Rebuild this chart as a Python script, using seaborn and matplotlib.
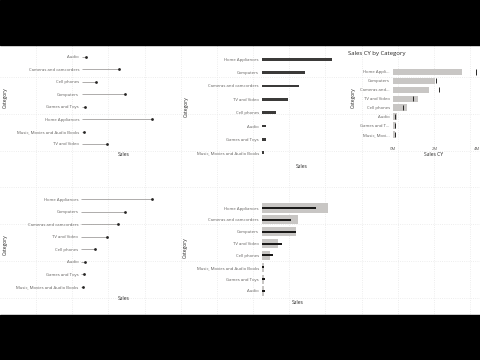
import matplotlib
matplotlib.use("Agg")
import numpy as np
import pandas as pd
import matplotlib.pyplot as plt
import seaborn as sns

# values in millions
categories = ["Audio", "Cameras and camcorders", "Cell phones", "Computers",
              "Games and Toys", "Home Appliances", "Music, Movies and Audio Books",
              "TV and Video"]
sales_cy = [0.19, 1.74, 0.65, 2.03, 0.16, 3.28, 0.10, 1.19]
sales_py = [0.09, 2.20, 0.46, 2.06, 0.10, 3.99, 0.11, 0.94]
short_labels = ["Audio", "Cameras and...", "Cell phones", "Computers",
                "Games and T...", "Home Appli...", "Music, Movi...", "TV and Video"]
cy_ticks = [0, 2, 4]

df = pd.DataFrame({"Category": categories, "Sales": sales_cy,
                   "SalesPY": sales_py, "Short": short_labels})
alpha_order = categories
cy_order = df.sort_values("Sales", ascending=False)["Category"].tolist()
py_order = df.sort_values("SalesPY", ascending=False)["Category"].tolist()

sns.set_theme(style="white")
plt.rcParams["font.family"] = ["Open Sans", "DejaVu Sans"]

W, H = 480, 360
TICK_C = "#605e5c"
LAB_C = "#252423"
fig = plt.figure(figsize=(4.8, 3.6), dpi=100)
fig.patch.set_facecolor("white")


def box(x0, y0, x1, y1):
    ax = fig.add_axes([x0 / W, 1 - y1 / H, (x1 - x0) / W, (y1 - y0) / H])
    ax.patch.set_alpha(0)
    return ax


def label(x, y, s, rot=0, size=3.6, **kw):
    fig.text(x / W, 1 - y / H, s, rotation=rot, ha=kw.pop("ha", "center"),
             va="center", fontsize=size, color=LAB_C, **kw)


def tidy(ax, xlim, pad=2.2):
    ax.set_xlim(*xlim)
    sns.despine(ax=ax, left=True, bottom=True)
    ax.set_xlabel("")
    ax.set_ylabel("")
    ax.set_xticks([])
    ax.tick_params(axis="y", length=0, pad=pad, labelsize=3.1, labelcolor=TICK_C)


# background: faint canvas grid and the black letterbox bands
bg = fig.add_axes([0, 0, 1, 1], zorder=-10)
bg.set_xlim(0, W)
bg.set_ylim(H, 0)
bg.set_xticks(np.arange(35.9, W, 36.2))
bg.set_yticks(np.arange(187.3 - 36.8 * 4, H, 36.8))
bg.grid(True, ls=":", color="#e8e8e8", lw=0.6)
bg.tick_params(length=0, labelbottom=False, labelleft=False)
for s in bg.spines.values():
    s.set_visible(False)
bg.axhspan(0, 45, color="black", zorder=2)
bg.axhspan(315, H, color="black", zorder=2)


def lollipop(ax, order):
    d = df.set_index("Category").loc[order].reset_index()
    ax.hlines(range(len(d)), 0, d["Sales"], color="#a19f9d", lw=0.6, zorder=2)
    sns.stripplot(data=d, x="Sales", y="Category", order=order, jitter=False,
                  color="#252423", size=2.0, linewidth=0, ax=ax, zorder=3)


# top left: lollipop, alphabetical
ax1 = box(81.7, 50.5, 166, 150.2)
lollipop(ax1, alpha_order)
tidy(ax1, (0, 3.92), pad=1.9)
label(124, 155, "Sales")
label(5.7, 98, "Category", rot=90)

# top middle: thin bars sorted by sales
ax2 = box(262.3, 52.6, 335, 159.4)
sns.barplot(data=df, x="Sales", y="Category", order=cy_order, color="#3b3a39",
            width=0.2, saturation=1, linewidth=0, ax=ax2)
tidy(ax2, (0, 3.43), pad=2.4)
label(302, 166, "Sales")
label(186, 107, "Category", rot=90)

# top right: Sales CY by Category with PY target ticks
ax3 = box(393, 65.3, 476.7, 141)
sns.barplot(data=df, x="Sales", y="Category", order=cy_order, color="#c8c6c4",
            width=0.7, saturation=1, linewidth=0, ax=ax3)
d3 = df.set_index("Category").loc[cy_order].reset_index()
ys = np.arange(len(d3))
ax3.vlines(d3["SalesPY"], ys - 0.3, ys + 0.3, color="#252423", lw=0.7)
tidy(ax3, (0, 4), pad=2.4)
ax3.set_yticks(ys)
ax3.set_yticklabels(d3["Short"])
ax3.set_xticks(cy_ticks)
ax3.set_xticklabels([f"{t}M" for t in cy_ticks])
ax3.tick_params(axis="x", length=0, pad=4, labelsize=3.1, labelcolor=TICK_C)
label(347.7, 54, "Sales CY by Category", size=4.3, ha="left")
label(434, 155, "Sales CY")
label(353, 98, "Category", rot=90)

# bottom left: lollipop sorted by sales
ax4 = box(81, 193, 166, 293.3)
lollipop(ax4, cy_order)
tidy(ax4, (0, 3.95), pad=1.9)
label(124, 299, "Sales")
label(5, 245, "Category", rot=90)

# bottom middle: PY bars with CY overlay, sorted by PY
ax5 = box(262.3, 202.1, 335, 296.9)
sns.barplot(data=df, x="SalesPY", y="Category", order=py_order, color="#c8c6c4",
            width=0.78, saturation=1, linewidth=0, ax=ax5)
sns.barplot(data=df, x="Sales", y="Category", order=py_order, color="#1b1a19",
            width=0.16, saturation=1, linewidth=0, ax=ax5)
tidy(ax5, (0, 4.43), pad=2.4)
label(297.3, 302.3, "Sales")
label(185, 248, "Category", rot=90)

fig.savefig("out.png", dpi=100)
